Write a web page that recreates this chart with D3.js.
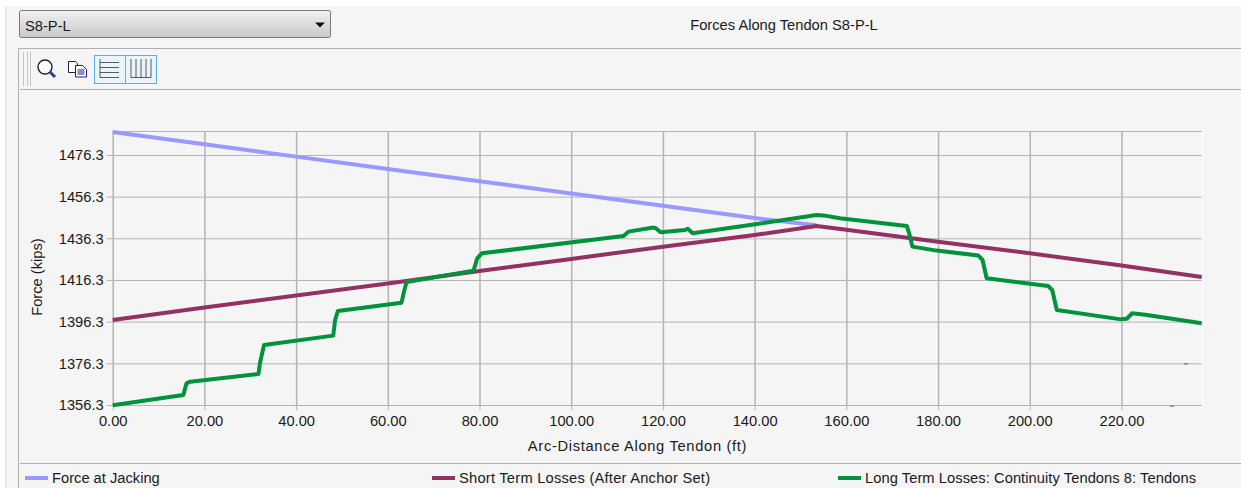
<!DOCTYPE html>
<html>
<head>
<meta charset="utf-8">
<script src="https://cdn.jsdelivr.net/npm/d3@7"></script>
<style>
  html, body { margin: 0; padding: 0; background: #fff; overflow: hidden; }
  svg { display: block; font-family: "Liberation Sans", Arial, sans-serif; }
  text { fill: #1a1a1a; font-size: 14.7px; }
  .axis .domain { display: none; }
  .axis line { stroke: #b4b4b4; }
</style>
</head>
<body>
<svg id="chart" width="1241" height="488"></svg>
<script>
const selectedTendon = 'S8-P-L';
const chartTitle = 'Forces Along Tendon S8-P-L';
const xTitle = 'Arc-Distance Along Tendon (ft)';
const yTitle = 'Force (kips)';
const xTicks = [0, 20, 40, 60, 80, 100, 120, 140, 160, 180, 200, 220];
const yTicks = [1356.3, 1376.3, 1396.3, 1416.3, 1436.3, 1456.3, 1476.3];

const jackingFt = [0, 20, 40, 60, 80, 100, 120, 140, 153.5];
const jackingForce = [1487.3, 1481.4, 1475.5, 1469.6, 1463.7, 1457.8, 1451.9, 1446, 1442.6];

const shortFt = [0, 20, 60, 80, 100, 120, 140, 153.5, 160, 180, 200, 220, 237.5];
const shortForce = [1397.1, 1403.1, 1414.6, 1420.6, 1426.4, 1432.3, 1437.9, 1442.2, 1440.4, 1434.7, 1429.1, 1423.2, 1417.7];

const longFt = [0, 15.4, 16.1, 16.9, 31.8, 32.1, 33, 48.1, 48.5, 49.1, 63, 63.5, 64.1,
  78.7, 79.5, 80.5, 111.4, 112.5, 117.6, 118.3, 119.5, 124.8, 125.4, 126.5, 140.1, 153.5, 155,
  158.6, 173.2, 173.7, 174.4, 179.7, 188.8, 189.7, 190.6, 204, 204.9, 205.9, 219.9, 221.2, 222.3,
  225.2, 237.5];
const longForce = [1356.2, 1361.1, 1366.7, 1367.5, 1371.2, 1376.3, 1385.1, 1389.6, 1397.1, 1401.4, 1405.4, 1410.5, 1415.3,
  1420.8, 1426.7, 1429.1, 1437.4, 1439.5, 1441.4, 1441.4, 1439.2, 1440.3, 1440.9, 1438.7, 1443, 1447.5, 1447.3,
  1445.9, 1442.2, 1438.7, 1432.3, 1430.4, 1428, 1425.9, 1417.1, 1413.4, 1411.5, 1401.9, 1397.4, 1397.7, 1400.3,
  1399.6, 1395.5];
// two stray green specks near the right edge
const speckFt = [234.1, 231];
const speckForce = [1376.3, 1356];

const legendLabels = ['Force at Jacking', 'Short Term Losses (After Anchor Set)', 'Long Term Losses: Continuity Tendons 8: Tendons'];
const legendSpacing = [0, 0.23, 0.06];
const seriesColors = ['#9999ff', '#943163', '#00933b'];

const svg = d3.select('#chart');

// window chrome
svg.append('rect').attr('x', 0).attr('y', 6).attr('width', 1241).attr('height', 482).attr('fill', '#f5f5f5');
svg.append('rect').attr('x', 0).attr('y', 6).attr('width', 5).attr('height', 482).attr('fill', '#fff');
svg.append('rect').attr('x', 5).attr('y', 6).attr('width', 2).attr('height', 482).attr('fill', '#e4ebf5');
svg.append('path').attr('d', 'M18.5,488V48.5H1241M20,89.5H1241M20,463.5H1241').attr('fill', 'none').attr('stroke', '#b0b0b0');

// dropdown
const grad = svg.append('defs').append('linearGradient').attr('id', 'combo').attr('x1', 0).attr('x2', 0).attr('y1', 0).attr('y2', 1);
grad.append('stop').attr('offset', '0%').attr('stop-color', '#f2f2f2');
grad.append('stop').attr('offset', '100%').attr('stop-color', '#c8c8c8');
svg.append('rect').attr('x', 19.5).attr('y', 10.5).attr('width', 311).attr('height', 27).attr('rx', 2)
  .attr('fill', 'url(#combo)').attr('stroke', '#7a7a7a');
svg.append('text').attr('x', 25).attr('y', 31).text(selectedTendon);
svg.append('path').attr('d', 'M315,22.5h10l-5,5z').attr('fill', '#111');
svg.append('text').attr('x', 784).attr('y', 30).attr('text-anchor', 'middle').text(chartTitle);

// toolbar
svg.append('path').attr('d', 'M23.5,52V86M27.5,52V86M30.5,52V86').attr('stroke', '#c4c4c4').attr('fill', 'none');
svg.append('circle').attr('cx', 45).attr('cy', 67).attr('r', 7).attr('fill', '#fff').attr('stroke', '#222').attr('stroke-width', 1.4);
svg.append('line').attr('x1', 50).attr('y1', 72).attr('x2', 55).attr('y2', 77).attr('stroke', '#2d3f9a').attr('stroke-width', 3);
svg.append('path').attr('d', 'M68.5,61.5h7l2,2v9h-9z').attr('fill', '#fff').attr('stroke', '#222');
svg.append('path').attr('d', 'M75.5,65.5h7l4,4v7.5h-11z').attr('fill', '#fff').attr('stroke', '#1c1c8c');
svg.append('path').attr('d', 'M77.5,70h7M77.5,72h7M77.5,74h7').attr('stroke', '#1c1c8c');
[94.5, 125.5].forEach(function (bx) {
  svg.append('rect').attr('x', bx).attr('y', 55.5).attr('width', 31).attr('height', 28)
    .attr('fill', '#e9f4fd').attr('stroke', '#5aaef0');
});
svg.append('path').attr('d', 'M100,59V77.5H119M100,62.5H119M100,67.5H119M100,72.5H119').attr('fill', 'none').attr('stroke', '#333').attr('stroke-width', 0.8);
svg.append('path').attr('d', 'M131,59V77.5H151M136,59V77.5M141,59V77.5M146,59V77.5M151,59V77.5').attr('fill', 'none').attr('stroke', '#333').attr('stroke-width', 0.8);

// plot
const x = d3.scaleLinear().domain([0, 237.5]).range([112.7, 1201.7]);
const y = d3.scaleLinear().domain([1356.3, 1487.8]).range([405, 131]);
const plotTop = y.range()[1], plotBottom = y.range()[0];
const plotLeft = x.range()[0], plotRight = x.range()[1];

// white axis lines on the bottom and right edges
svg.append('path').attr('d', `M${plotLeft},${plotBottom + 0.5}H${plotRight + 0.5}V${plotTop}`)
  .attr('fill', 'none').attr('stroke', '#fff');

const xAxis = svg.append('g').attr('class', 'axis')
  .attr('transform', `translate(0,${plotBottom})`)
  .call(d3.axisBottom(x).tickValues(xTicks).tickFormat(d3.format('.2f')).tickSize(5).tickPadding(4));
xAxis.selectAll('.tick').append('line').attr('y1', 0).attr('y2', plotTop - plotBottom).attr('stroke-width', 1.5);
xAxis.selectAll('text').attr('dy', '0.85em').style('font-size', '14.7px');

const yAxis = svg.append('g').attr('class', 'axis')
  .attr('transform', `translate(${plotLeft},0)`)
  .call(d3.axisLeft(y).tickValues(yTicks).tickFormat(d3.format('.1f')).tickSize(6).tickPadding(3));
yAxis.selectAll('.tick').append('line').attr('x1', 0).attr('x2', plotRight - plotLeft);
yAxis.selectAll('text').style('font-size', '14.7px');

// top gridline
svg.append('line').attr('x1', plotLeft).attr('x2', plotRight).attr('y1', plotTop + 0.5).attr('y2', plotTop + 0.5).attr('stroke', '#b4b4b4');

svg.append('text').attr('x', 637.5).attr('y', 451).attr('text-anchor', 'middle').style('letter-spacing', '0.68px').text(xTitle);
svg.append('text').attr('transform', 'translate(42,277) rotate(-90)').attr('text-anchor', 'middle').text(yTitle);

const line = d3.line().x(function (d) { return x(d[0]); }).y(function (d) { return y(d[1]); });
const series = [
  d3.zip(jackingFt, jackingForce),
  d3.zip(shortFt, shortForce),
  d3.zip(longFt, longForce)
];
svg.selectAll('.series').data(series).enter().append('path')
  .attr('class', 'series')
  .attr('d', line)
  .attr('fill', 'none')
  .attr('stroke', function (d, i) { return seriesColors[i]; })
  .attr('stroke-width', 4)
  .attr('stroke-linejoin', 'round');

svg.selectAll('.speck').data(d3.zip(speckFt, speckForce)).enter().append('rect')
  .attr('class', 'speck')
  .attr('x', function (d) { return x(d[0]) - 2; })
  .attr('y', function (d) { return y(d[1]); })
  .attr('width', 4).attr('height', 1)
  .attr('fill', seriesColors[2]);

// legend
const legendX = [25, 432, 838];
const legend = svg.selectAll('.legend').data(legendLabels).enter().append('g')
  .attr('class', 'legend')
  .attr('transform', function (d, i) { return `translate(${legendX[i]},478)`; });
legend.append('line').attr('x1', 0).attr('x2', 23).attr('stroke-width', 4)
  .attr('stroke', function (d, i) { return seriesColors[i]; });
legend.append('text').attr('x', 27).attr('y', 5)
  .style('letter-spacing', function (d, i) { return legendSpacing[i] + 'px'; })
  .text(function (d) { return d; });
</script>
</body>
</html>
